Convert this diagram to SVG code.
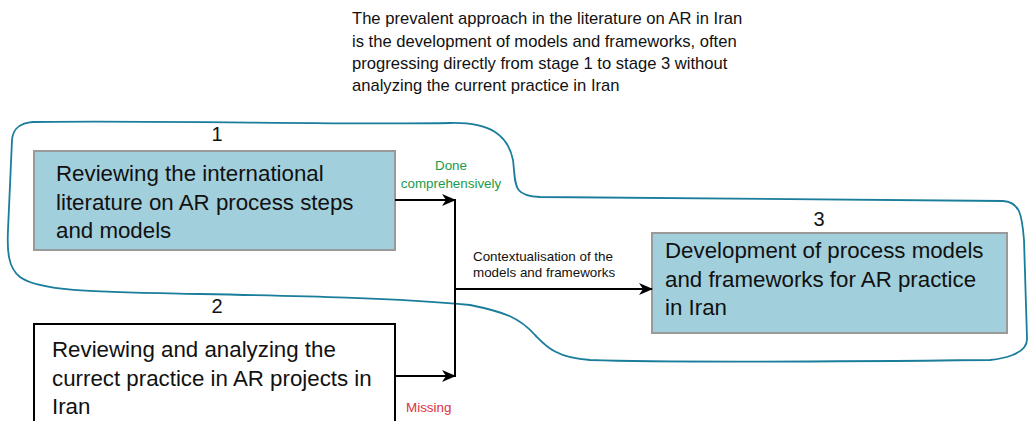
<svg xmlns="http://www.w3.org/2000/svg" width="1031" height="421" viewBox="0 0 1031 421">
<style>
text{font-family:"Liberation Sans",Arial,sans-serif;fill:#111}
.big{font-size:22.3px}
.num{font-size:20px;text-anchor:middle}
.top{font-size:16.6px}
.sm{font-size:13.4px}
.conn{stroke:#000;stroke-width:2;fill:none}
</style>
<defs>
<marker id="ah" markerWidth="14" markerHeight="12" refX="13" refY="6" orient="auto" markerUnits="userSpaceOnUse">
<path d="M0,0 L14,6 L0,12 L4,6 Z" fill="#000"/>
</marker>
</defs>
<rect width="1031" height="421" fill="#fff"/>
<g id="caption">
<text class="top" x="352" y="24">The prevalent approach in the literature on AR in Iran</text>
<text class="top" x="352" y="47">is the development of models and frameworks, often</text>
<text class="top" x="352" y="69">progressing directly from stage 1 to stage 3 without</text>
<text class="top" x="352" y="91">analyzing the current practice in Iran</text>
</g>
<g id="group-outline">
<path d="M33,122 C150,120 350,125 450,123 C490,122 508,135 513,160 C516,185 512,196 540,197 L1003,201 C1020,202 1022,215 1024,240 L1027,338 C1028,355 1000,359 990,360 C800,362 650,362 590,360 C555,358 545,345 535,335 C520,318 505,312 470,305 C400,298 300,296 200,294 C100,292 40,292 20,277 C8,268 7,250 8,230 L12,140 C13,128 20,123 33,122 Z" fill="none" stroke="#1a7d9c" stroke-width="1.8"/>
</g>
<g id="node1">
<text class="num" x="217" y="141">1</text>
<rect x="34" y="151" width="361" height="99" fill="#a1cfdc" stroke="#9a9a9a" stroke-width="2"/>
<text class="big" x="56" y="181">Reviewing the international</text>
<text class="big" x="56" y="210">literature on AR process steps</text>
<text class="big" x="56" y="238">and models</text>
</g>
<g id="node2">
<text class="num" x="217" y="313">2</text>
<rect x="34" y="324" width="361" height="110" fill="#fff" stroke="#000" stroke-width="2"/>
<text class="big" x="52" y="357">Reviewing and analyzing the</text>
<text class="big" x="52" y="386">currect practice in AR projects in</text>
<text class="big" x="52" y="414">Iran</text>
</g>
<g id="node3">
<text class="num" x="819" y="226">3</text>
<rect x="652" y="233" width="355" height="100" fill="#a1cfdc" stroke="#9a9a9a" stroke-width="2"/>
<text class="big" x="665" y="258">Development of process models</text>
<text class="big" x="665" y="287">and frameworks for AR practice</text>
<text class="big" x="665" y="315">in Iran</text>
</g>
<g id="connectors">
<path class="conn" d="M395,200 L455,200" marker-end="url(#ah)"/>
<path class="conn" d="M395,376 L455,376" marker-end="url(#ah)"/>
<path class="conn" d="M455,199 L455,377"/>
<path class="conn" d="M455,289 L652,289" marker-end="url(#ah)"/>
<text class="sm" x="451" y="170" text-anchor="middle" style="fill:#1a9a4a">Done</text>
<text class="sm" x="451" y="188" text-anchor="middle" style="fill:#1a9a4a">comprehensively</text>
<text class="sm" x="473" y="261" style="font-size:13.4px">Contextualisation of the</text>
<text class="sm" x="473" y="277" style="font-size:13.4px">models and frameworks</text>
<text class="sm" x="406" y="412" style="fill:#e0303a">Missing</text>
</g>
</svg>
